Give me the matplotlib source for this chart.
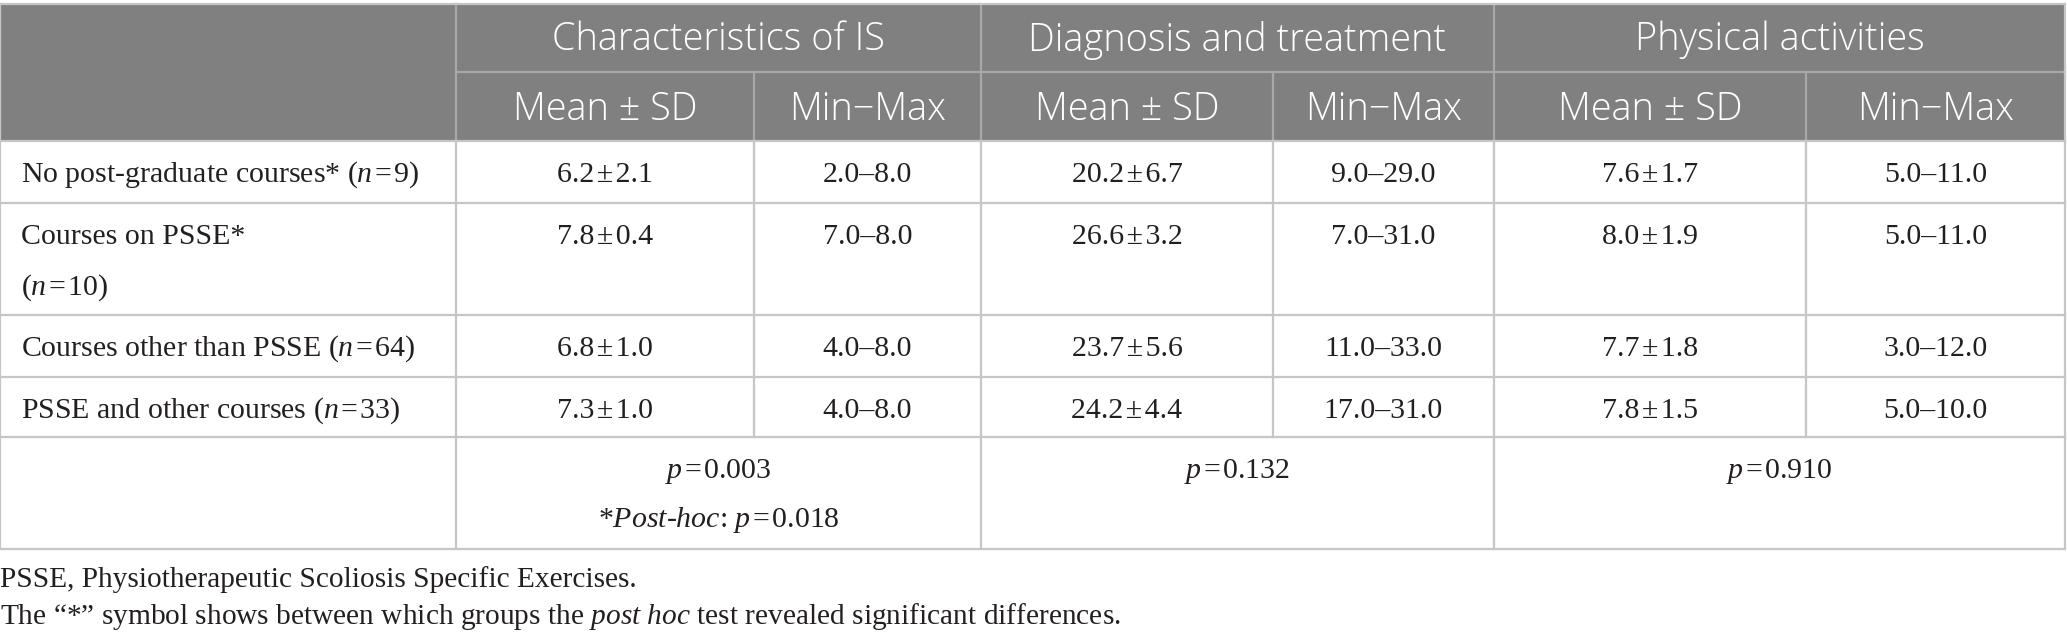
import matplotlib
matplotlib.use("Agg")
import matplotlib.pyplot as plt
from matplotlib.patches import Rectangle

# valores da tabela
grupos = [["No post-graduate courses* ($n$\u200a=\u200a9)"],
          ["Courses on PSSE*", "($n$\u200a=\u200a10)"],
          ["Courses other than PSSE ($n$\u200a=\u200a64)"],
          ["PSSE and other courses ($n$\u200a=\u200a33)"]]
dominios = ["Characteristics of IS", "Diagnosis and treatment", "Physical activities"]
sub_cols = ["Mean \u00b1 SD", "Min\u2212Max"]

char_mean = [6.2, 7.8, 6.8, 7.3]
char_sd = [2.1, 0.4, 1.0, 1.0]
char_min = [2.0, 7.0, 4.0, 4.0]
char_max = [8.0, 8.0, 8.0, 8.0]
diag_mean = [20.2, 26.6, 23.7, 24.2]
diag_sd = [6.7, 3.2, 5.6, 4.4]
diag_min = [9.0, 7.0, 11.0, 17.0]
diag_max = [29.0, 31.0, 33.0, 31.0]
phys_mean = [7.6, 8.0, 7.7, 7.8]
phys_sd = [1.7, 1.9, 1.8, 1.5]
phys_min = [5.0, 5.0, 3.0, 5.0]
phys_max = [11.0, 11.0, 12.0, 10.0]
p_valores = ["0.003", "0.132", "0.910"]
post_hoc = ["0.018", None, None]

notas = ["PSSE, Physiotherapeutic Scoliosis Specific Exercises.",
         "The \u201c*\u201d symbol shows between which groups the $post$ $hoc$ test revealed significant differences."]

# layout (pixels)
W, H = 2067, 641
col_x = [0, 456, 754, 981, 1273, 1494, 1806, 2065]
row_y = [4, 72, 141, 203, 315, 377, 437, 549]

plt.rcParams['mathtext.fontset'] = 'custom'
plt.rcParams['mathtext.rm'] = 'Liberation Serif'
plt.rcParams['mathtext.it'] = 'Liberation Serif:italic'

fig = plt.figure(figsize=(W / 100, H / 100), dpi=100)
ax = fig.add_axes([0, 0, 1, 1])
ax.set_xlim(0, W)
ax.set_ylim(H, 0)
ax.axis('off')

cor_header = '#808080'
cor_linha_h = '#a8a8a8'
cor_linha = '#c6c6c6'
cor_txt = '#231f20'
serif = 'Liberation Serif'
sans = 'Open Sans'
fs_body = 21.5
fs_nota = 21.2
fs_head = 27.3

# cabeçalho
ax.add_patch(Rectangle((col_x[0], row_y[0]), col_x[-1] - col_x[0], row_y[2] - row_y[0],
                       facecolor=cor_header, edgecolor='none'))
ax.plot([col_x[1], col_x[-1]], [row_y[1], row_y[1]], color=cor_linha_h, lw=1.6)
for xi in [1, 3, 5]:
    ax.plot([col_x[xi], col_x[xi]], [row_y[0], row_y[2]], color=cor_linha_h, lw=1.6)
for xi in [2, 4, 6]:
    ax.plot([col_x[xi], col_x[xi]], [row_y[1], row_y[2]], color=cor_linha_h, lw=1.6)

for i, d in enumerate(dominios):
    x0, x1 = col_x[1 + 2 * i], col_x[3 + 2 * i]
    ax.text((x0 + x1) / 2, (row_y[0] + row_y[1]) / 2 + 2, d, ha='center', va='center',
            color='white', fontsize=fs_head, family=sans, fontweight='light')
    for j, s in enumerate(sub_cols):
        a, b = col_x[1 + 2 * i + j], col_x[2 + 2 * i + j]
        ax.text((a + b) / 2, (row_y[1] + row_y[2]) / 2 + 3, s, ha='center', va='center',
                color='white', fontsize=fs_head, family=sans, fontweight='light')

# linhas do corpo
for k in range(2, 8):
    ax.plot([col_x[0], col_x[-1]], [row_y[k], row_y[k]], color=cor_linha, lw=1.6)
ax.plot([col_x[0], col_x[-1]], [row_y[0], row_y[0]], color=cor_linha, lw=1.6)
ax.plot([col_x[0], col_x[0]], [row_y[0], row_y[-1]], color=cor_linha, lw=1.6)
ax.plot([col_x[-1], col_x[-1]], [row_y[0], row_y[-1]], color=cor_linha, lw=1.6)
for xi in range(1, 7):
    ax.plot([col_x[xi], col_x[xi]], [row_y[2], row_y[6]], color=cor_linha, lw=1.6)
for xi in [1, 3, 5]:
    ax.plot([col_x[xi], col_x[xi]], [row_y[6], row_y[7]], color=cor_linha, lw=1.6)

dados = [(char_mean, char_sd, char_min, char_max),
         (diag_mean, diag_sd, diag_min, diag_max),
         (phys_mean, phys_sd, phys_min, phys_max)]

passo = 51
for r, g in enumerate(grupos):
    y0 = row_y[2 + r] + 34
    for li, linha in enumerate(g):
        ax.text(21, y0 + li * passo, linha, ha='left', va='center', color=cor_txt,
                fontsize=fs_body, family=serif)
    for i, (m, sd, mn, mx) in enumerate(dados):
        c0 = col_x[1 + 2 * i]
        c1 = col_x[2 + 2 * i]
        c2 = col_x[3 + 2 * i]
        ax.text((c0 + c1) / 2, y0, f"{m[r]:.1f}\u200a\u00b1\u200a{sd[r]:.1f}", ha='center',
                va='center', color=cor_txt, fontsize=fs_body, family=serif)
        ax.text((c1 + c2) / 2, y0, f"{mn[r]:.1f}\u2013{mx[r]:.1f}", ha='center',
                va='center', color=cor_txt, fontsize=fs_body, family=serif)

# linha dos valores de p
for i, p in enumerate(p_valores):
    xc = (col_x[1 + 2 * i] + col_x[3 + 2 * i]) / 2
    y0 = row_y[6] + 35
    ax.text(xc, y0, f"$p$\u200a=\u200a{p}", ha='center', va='center', color=cor_txt,
            fontsize=fs_body, family=serif)
    if post_hoc[i]:
        ax.text(xc, y0 + 48, f"*$Post$-$hoc$: $p$\u200a=\u200a{post_hoc[i]}", ha='center',
                va='center', color=cor_txt, fontsize=fs_body, family=serif)

# notas de rodapé
ax.text(0, 580, notas[0], ha='left', va='center', color=cor_txt, fontsize=fs_nota, family=serif)
ax.text(0, 617, notas[1], ha='left', va='center', color=cor_txt, fontsize=fs_nota, family=serif)

fig.savefig('out.png', dpi=100)
